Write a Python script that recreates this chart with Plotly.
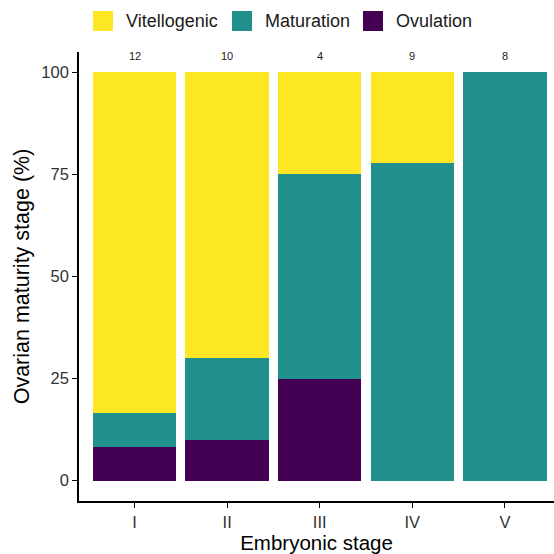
import plotly.graph_objects as go

# Counts of females per embryonic stage, split by ovarian maturity stage
stages = ["I", "II", "III", "IV", "V"]
vitellogenic = [10, 7, 1, 2, 0]
maturation = [1, 2, 2, 7, 8]
ovulation = [1, 1, 1, 0, 0]
totals = [v + m + o for v, m, o in zip(vitellogenic, maturation, ovulation)]

def pct(vals):
    return [100.0 * v / t for v, t in zip(vals, totals)]

colors = {"Vitellogenic": "#FDE725", "Maturation": "#21908C", "Ovulation": "#440154"}

W, H = 554, 554
ML, MR, MT, MB = 79, 0, 52, 53
FONT = "Liberation Sans, Arial, sans-serif"

fig = go.Figure()
# stacked bottom-up: Ovulation, Maturation, Vitellogenic
for name, vals in [("Ovulation", ovulation), ("Maturation", maturation), ("Vitellogenic", vitellogenic)]:
    fig.add_trace(go.Bar(
        x=list(range(len(stages))), y=pct(vals), name=name,
        marker=dict(color=colors[name], line=dict(width=0)),
        width=0.9, showlegend=False,
    ))

# sample size above each bar
for i, n in enumerate(totals):
    fig.add_annotation(x=i, y=100, xref="x", yref="y", text=str(n), showarrow=False,
                       yanchor="bottom", yshift=8, font=dict(size=11, color="#1a1a1a", family=FONT))

# legend drawn as swatches + labels across the top
pw = W - ML - MR
ph = H - MT - MB
def px_x(p):
    return (p - ML) / pw
def px_y(p):
    return (H - MB - p) / ph

legend_items = [("Vitellogenic", 93), ("Maturation", 232), ("Ovulation", 363)]
for name, x0 in legend_items:
    fig.add_shape(type="rect", xref="paper", yref="paper",
                  x0=px_x(x0), x1=px_x(x0 + 20), y0=px_y(31), y1=px_y(11),
                  fillcolor=colors[name], line=dict(width=0))
    fig.add_annotation(xref="paper", yref="paper", x=px_x(x0 + 31), y=px_y(21),
                       text=name, showarrow=False, xanchor="left", yanchor="middle",
                       font=dict(size=18, color="#1a1a1a", family=FONT))

fig.update_layout(
    width=W, height=H,
    margin=dict(l=ML, r=MR, t=MT, b=MB),
    barmode="stack", bargap=0.1,
    plot_bgcolor="white", paper_bgcolor="white",
    font=dict(family=FONT, color="#1a1a1a"),
    xaxis=dict(
        range=[-0.6, 4.53], tickmode="array", tickvals=list(range(len(stages))), ticktext=stages,
        showline=True, linecolor="black", linewidth=1.6, ticks="outside", ticklen=5,
        tickcolor="black", tickwidth=1.4, tickfont=dict(size=16.5, color="#333333"),
        showgrid=False, zeroline=False,
        title=dict(text="Embryonic stage", font=dict(size=20.5, color="black"), standoff=3),
    ),
    yaxis=dict(
        range=[-5, 105], tickvals=[0, 25, 50, 75, 100],
        showline=True, linecolor="black", linewidth=1.6, ticks="outside", ticklen=5,
        tickcolor="black", tickwidth=1.4, tickfont=dict(size=16.5, color="#333333"),
        showgrid=False, zeroline=False,
        title=dict(text="Ovarian maturity stage (%)", font=dict(size=21.5, color="black"), standoff=6),
    ),
)

fig.write_html("out.html")
